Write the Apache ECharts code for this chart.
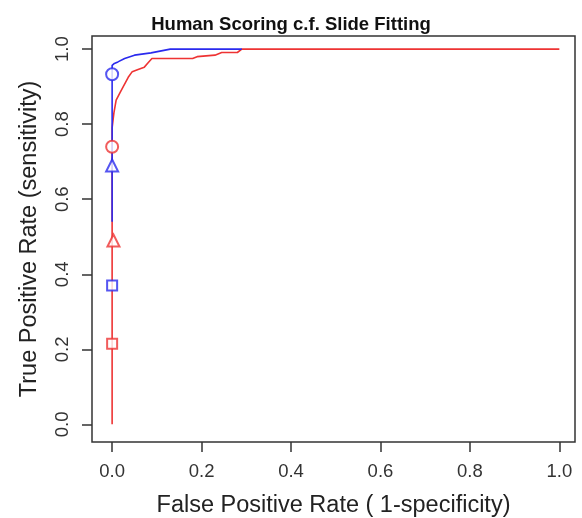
<!DOCTYPE html>
<html>
<head>
<meta charset="utf-8">
<script src="https://cdn.jsdelivr.net/npm/echarts@6/dist/echarts.min.js"></script>
<style>
  html, body { margin: 0; padding: 0; background: #fff; }
  #chart { width: 582px; height: 518px; }
</style>
</head>
<body>
<div id="chart"></div>
<script>
// ROC curves (x = 1-specificity, y = sensitivity)
const redFpr = [0, 0, 0.004, 0.009, 0.018, 0.027, 0.036, 0.045, 0.058, 0.072, 0.08, 0.089, 0.18, 0.19, 0.23, 0.245, 0.28, 0.29, 1.0];
const redTpr = [0, 0.79, 0.83, 0.864, 0.885, 0.905, 0.925, 0.94, 0.946, 0.952, 0.963, 0.975, 0.975, 0.98, 0.984, 0.991, 0.991, 1.0, 1.0];
const blueFpr = [0, 0, 0.005, 0.013, 0.028, 0.05, 0.087, 0.13, 0.29];
const blueTpr = [0.54, 0.957, 0.962, 0.966, 0.975, 0.984, 0.99, 1.0, 1.0];

// single operating points (human scoring)
const pointNames = ['circle', 'triangle', 'rect'];
const bluePointsX = [0, 0, 0];
const bluePointsY = [0.933, 0.69, 0.37];
const redPointsX = [0, 0.003, 0];
const redPointsY = [0.74, 0.49, 0.215];

const tickValues = [0, 0.2, 0.4, 0.6, 0.8, 1.0];

const BLUE = '#2a2aee';
const RED = '#ee3333';
const FONT = '"Liberation Sans", Arial, Helvetica, sans-serif';

const zip = (xs, ys) => xs.map((x, i) => [x, ys[i]]);

function pointSeries(xs, ys, color) {
  return pointNames.map((sym, i) => ({
    type: 'scatter',
    symbol: 'empty' + sym.charAt(0).toUpperCase() + sym.slice(1),
    symbolSize: sym === 'rect' ? 10 : 12,
    itemStyle: { color: color, borderColor: color, borderWidth: 1.5 },
    z: 5,
    data: [[xs[i], ys[i]]]
  }));
}

const chart = echarts.init(document.getElementById('chart'));

const axisCommon = {
  type: 'value',
  nameLocation: 'middle',
  nameTextStyle: { fontFamily: FONT, fontSize: 23.5, color: '#222' },
  axisLine: { show: false, onZero: false },
  axisTick: { show: true, inside: false, length: 10, customValues: tickValues, lineStyle: { color: '#333', width: 1.5 } },
  axisLabel: {
    customValues: tickValues,
    fontFamily: FONT, fontSize: 18.5, color: '#333',
    formatter: v => v.toFixed(1)
  },
  splitLine: { show: false }
};

chart.setOption({
  backgroundColor: '#fff',
  animation: false,
  title: {
    text: 'Human Scoring c.f. Slide Fitting',
    left: 'center',
    top: 10,
    textStyle: { fontFamily: FONT, fontSize: 18.5, fontWeight: 'bold', color: '#111' }
  },
  grid: {
    left: 92, right: 7, top: 36, bottom: 76,
    outerBoundsMode: 'none',
    containLabel: false,
    show: true, borderColor: '#333', borderWidth: 1.5
  },
  xAxis: Object.assign({}, axisCommon, {
    min: -0.045, max: 1.035,
    name: 'False Positive Rate ( 1-specificity)',
    nameGap: 52,
    axisLabel: Object.assign({}, axisCommon.axisLabel, { margin: 20 })
  }),
  yAxis: Object.assign({}, axisCommon, {
    min: -0.047, max: 1.035,
    name: 'True Positive Rate (sensitivity)',
    nameGap: 50,
    axisLabel: Object.assign({}, axisCommon.axisLabel, { margin: 20, rotate: 90 })
  }),
  series: [
    {
      type: 'line',
      data: zip(redFpr, redTpr),
      showSymbol: false,
      lineStyle: { color: RED, width: 1.6 },
      z: 2
    },
    {
      type: 'line',
      data: zip(blueFpr, blueTpr),
      showSymbol: false,
      lineStyle: { color: BLUE, width: 1.6 },
      z: 3
    }
  ].concat(pointSeries(bluePointsX, bluePointsY, BLUE), pointSeries(redPointsX, redPointsY, RED))
});
</script>
</body>
</html>
